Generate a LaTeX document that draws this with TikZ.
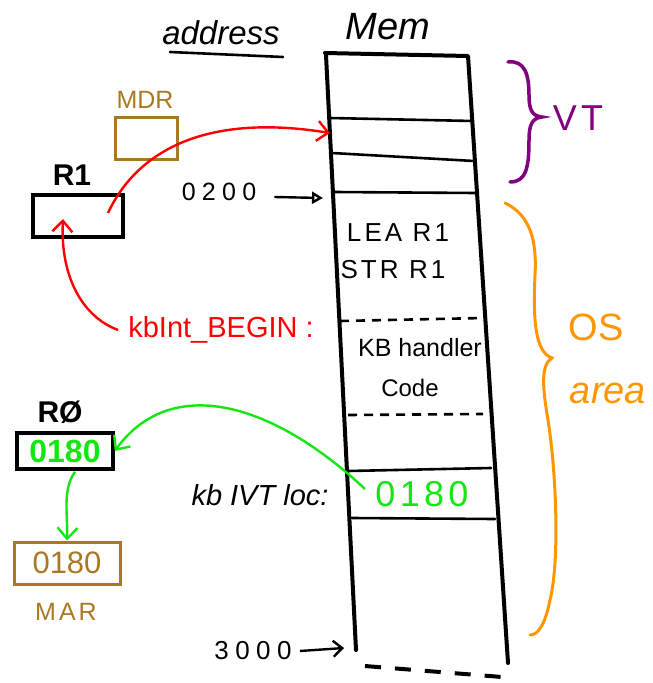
\documentclass[tikz,border=0pt]{standalone}
\usepackage{fontspec}
\setmainfont{Liberation Sans}
\newfontfamily\hand[LetterSpace=12]{Liberation Sans}
\newfontfamily\wide[LetterSpace=25]{Liberation Sans}
\usetikzlibrary{arrows.meta}
\definecolor{hgreen}{RGB}{20,230,20}
\definecolor{hbrown}{RGB}{170,120,35}
\definecolor{hpurple}{RGB}{128,0,128}
\definecolor{horange}{RGB}{255,150,0}
\tikzset{
  memedge/.style={line width=4pt, line cap=round, line join=round},
  memrow/.style={line width=2.6pt, line cap=round},
  memdash/.style={line width=2.6pt, dash pattern=on 9pt off 7pt},
  regbox/.style={draw, line width=3.5pt, inner sep=0pt},
  conn/.style={line width=2.4pt, -{Straight Barb[length=11pt,width=20pt,line width=2.4pt]}},
  lbl/.style={inner sep=0pt, anchor=center},
}
\begin{document}
\begin{tikzpicture}[x=1pt,y=-1pt]
\useasboundingbox (0,0) rectangle (653,683);
% titles
\node[lbl, font=\fontsize{33}{33}\selectfont\itshape] (addr) at (221,33) {address};
\draw[line width=2.6pt, line cap=round] (170,52) -- (283,57);
\node[lbl, font=\fontsize{38}{38}\selectfont\itshape] (mem) at (388,27) {Mem};
% memory column
\draw[memedge] (326,55) -- (356,650);
\draw[memedge] (325,53) -- (468,56) -- (508,663);
\draw[memrow] (330,118) -- (473,121);
\draw[memrow] (332,153) -- (474,161);
\draw[memrow] (335,192) -- (476,193);
\draw[memdash] (340,321) -- (483,318);
\draw[memdash] (348,415) -- (483,414);
\draw[memrow] (348,471) -- (491,468);
\draw[memrow] (352,518) -- (495,519);
\draw[line width=4pt, dash pattern=on 16pt off 14pt] (365,666) -- (502,677);
% memory texts
\node[lbl, font=\hand\fontsize{26}{26}\selectfont] (lea) at (398,233) {LEA R1};
\node[lbl, font=\hand\fontsize{26}{26}\selectfont] (str) at (393,270) {STR R1};
\node[lbl, font=\fontsize{25}{25}\selectfont] (kbh) at (420,348) {KB handler};
\node[lbl, font=\fontsize{24}{24}\selectfont] (code) at (410,388) {Code};
\node[lbl, font=\hand\fontsize{36}{36}\selectfont, text=hgreen] (ivtval) at (422,494) {0180};
\node[lbl, font=\fontsize{29}{29}\selectfont\itshape] (ivtloc) at (260,495) {kb IVT loc:};
% addresses
\node[lbl, font=\wide\fontsize{25}{25}\selectfont] (a200) at (219,192) {0200};
\coordinate (a200end) at (323,198);
\draw[line width=2.4pt, -{Triangle[open,length=11pt,width=12pt,line width=2.4pt]}] (a200.east)+(18,5) -- (a200end);
\node[lbl, font=\wide\fontsize{26}{26}\selectfont] (a3000) at (253,651) {3000};
\coordinate (a3000end) at (344,648);
\draw[line width=2.4pt, -{Straight Barb[length=9pt,width=16pt,line width=2.4pt]}] (a3000.east)+(8,0) -- (a3000end);
% braces
\draw[hpurple, line width=3.5pt, line cap=round]
  (508,62) .. controls (525,60) and (529,75) .. (529,95)
  .. controls (529,110) and (532,116) .. (542,117)
  .. controls (532,118) and (529,125) .. (529,140)
  .. controls (529,168) and (526,182) .. (510,182);
\node[lbl, font=\hand\fontsize{36}{36}\selectfont, text=hpurple] (vt) at (578,118) {VT};
\draw[horange, line width=3pt, line cap=round]
  (505,203) .. controls (530,215) and (537,240) .. (535,275)
  .. controls (533,320) and (535,352) .. (552,358)
  .. controls (540,365) and (543,390) .. (548,420)
  .. controls (556,470) and (560,560) .. (550,600)
  .. controls (545,625) and (538,635) .. (530,635);
\node[lbl, font=\fontsize{38}{38}\selectfont, text=horange] (os) at (596,327) {OS};
\node[lbl, font=\fontsize{38}{38}\selectfont\itshape, text=horange] (area) at (608,393) {area};
% registers
\node[lbl, font=\fontsize{25}{25}\selectfont, text=hbrown] (mdrl) at (145,100) {MDR};
\node[regbox, draw=hbrown, line width=3pt, minimum width=62pt, minimum height=42pt] (mdr) at (146,138) {};
\node[lbl, font=\bfseries\fontsize{30}{30}\selectfont] (r1l) at (72,175) {R1};
\node[regbox, minimum width=90pt, minimum height=42pt] (r1) at (78,216) {};
\node[lbl, font=\bfseries\fontsize{30}{30}\selectfont] (r0l) at (60,412) {RØ};
\node[regbox, minimum width=96pt, minimum height=36pt, text=hgreen, font=\bfseries\fontsize{32}{32}\selectfont] (r0) at (65,451) {0180};
\node[regbox, draw=hbrown, line width=3pt, minimum width=106pt, minimum height=42pt, text=hbrown, font=\fontsize{31}{31}\selectfont] (mar) at (67,563) {0180};
\node[lbl, font=\hand\fontsize{25}{25}\selectfont, text=hbrown] (marl) at (66,612) {MAR};
% red label
\node[lbl, font=\fontsize{29}{29}\selectfont, text=red] (kbint) at (221,330) {kbInt\_BEGIN :};
% connectors
\coordinate (r1src) at (108,213);
\coordinate (vtslot) at (330,133);
\draw[conn, red] (r1src) .. controls (135,155) and (200,112) .. (vtslot);
\coordinate (r1in) at (63,219);
\draw[conn, red] (kbint.west)+(-10,0) .. controls (85,318) and (60,280) .. (r1in);
\coordinate (ivtsrc) at (365,489);
\draw[conn, hgreen] (ivtsrc) .. controls (270,400) and (170,375) .. (r0.east);
\draw[conn, hgreen] (r0.south)+(10,1) .. controls (62,490) and (68,515) .. (mar.north);
\end{tikzpicture}
\end{document}
